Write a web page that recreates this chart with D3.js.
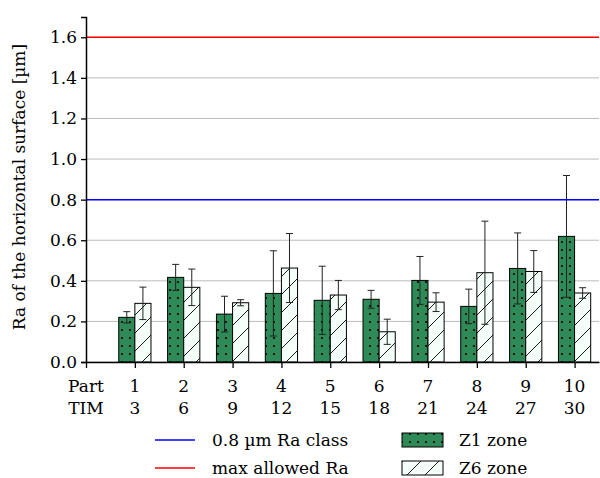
<!DOCTYPE html>
<html><head><meta charset="utf-8">
<script src="https://cdn.jsdelivr.net/npm/d3@7"></script>
<style>body{margin:0;background:#fff}svg{display:block}text{font-family:"DejaVu Serif",serif;fill:#000}</style>
</head><body>
<script>
const parts = ["1","2","3","4","5","6","7","8","9","10"];
const tims  = ["3","6","9","12","15","18","21","24","27","30"];
const z1Mean = [0.22,0.417,0.236,0.338,0.304,0.309,0.402,0.274,0.461,0.619];
const z1Err  = [0.028,0.064,0.088,0.21,0.168,0.044,0.118,0.085,0.175,0.30];
const z6Mean = [0.289,0.368,0.292,0.463,0.33,0.149,0.295,0.44,0.446,0.34];
const z6Err  = [0.08,0.09,0.015,0.17,0.072,0.062,0.046,0.254,0.103,0.026];
const yTicks = [0,0.2,0.4,0.6,0.8,1.0,1.2,1.4,1.6];
const classLine = 0.8, maxLine = 1.6;

const W=600,H=478, FS=17;
const svg=d3.select("body").append("svg").attr("width",W).attr("height",H);
const x=d3.scaleLinear().domain([0,10.5]).range([86,599]);
const y=d3.scaleLinear().domain([0,1.7]).range([362,17]);
const bw = x(0.33)-x(0);

const defs=svg.append("defs");
const pd=defs.append("pattern").attr("id","dots").attr("patternUnits","userSpaceOnUse").attr("width",8).attr("height",8);
pd.append("rect").attr("width",8).attr("height",8).attr("fill","#2e8b57");
pd.append("circle").attr("cx",2).attr("cy",2).attr("r",1.1).attr("fill","#000");
const ph=defs.append("pattern").attr("id","hatch").attr("patternUnits","userSpaceOnUse").attr("width",18).attr("height",18);
ph.append("rect").attr("width",18).attr("height",18).attr("fill","#f5fffa");
ph.append("path").attr("d","M0,18L18,0M-4,4L4,-4M14,22L22,14").attr("stroke","#000").attr("stroke-width",0.9);

// grid
svg.append("g").selectAll("line").data(yTicks).join("line")
  .attr("x1",x(0)).attr("x2",x(10.5)).attr("y1",d=>y(d)).attr("y2",d=>y(d))
  .attr("stroke","#bcbcbc").attr("stroke-width",1);

// bars
const idx=d3.range(parts.length);
const g=svg.append("g");
g.selectAll(".b1").data(idx).join("rect")
  .attr("x",i=>x(i+1)-bw).attr("width",bw).attr("y",i=>y(z1Mean[i])).attr("height",i=>y(0)-y(z1Mean[i]))
  .attr("fill","url(#dots)").attr("stroke","#000").attr("stroke-width",1);
g.selectAll(".b6").data(idx).join("rect")
  .attr("x",i=>x(i+1)).attr("width",bw).attr("y",i=>y(z6Mean[i])).attr("height",i=>y(0)-y(z6Mean[i]))
  .attr("fill","url(#hatch)").attr("stroke","#000").attr("stroke-width",1);

function errs(mean,err,off){
  const eg=svg.append("g").attr("stroke","#222").attr("stroke-width",1);
  idx.forEach(i=>{
    const cx=x(i+1)+off, t=y(mean[i]+err[i]), b=y(mean[i]-err[i]);
    eg.append("line").attr("x1",cx).attr("x2",cx).attr("y1",t).attr("y2",b);
    eg.append("line").attr("x1",cx-3.5).attr("x2",cx+3.5).attr("y1",t).attr("y2",t);
    eg.append("line").attr("x1",cx-3.5).attr("x2",cx+3.5).attr("y1",b).attr("y2",b);
  });
}
errs(z1Mean,z1Err,-bw/2);
errs(z6Mean,z6Err,bw/2);

// reference lines
svg.append("line").attr("x1",x(0)).attr("x2",x(10.5)).attr("y1",y(classLine)).attr("y2",y(classLine)).attr("stroke","#0000ff").attr("stroke-width",1.5);
svg.append("line").attr("x1",x(0)).attr("x2",x(10.5)).attr("y1",y(maxLine)).attr("y2",y(maxLine)).attr("stroke","#ff0000").attr("stroke-width",1.5);

// axes
const ya=svg.append("g").attr("transform",`translate(${x(0)},0)`)
  .call(d3.axisLeft(y).tickValues(yTicks).tickFormat(d3.format(".1f")).tickSize(5).tickPadding(4));
ya.select(".domain").attr("stroke-width",1.5);
ya.selectAll(".tick line").attr("stroke-width",1.3);
ya.selectAll("text").attr("font-size",FS).attr("font-family","DejaVu Serif");

const xa=svg.append("g").attr("transform",`translate(0,${y(0)})`)
  .call(d3.axisBottom(x).tickValues(d3.range(0,11)).tickFormat("").tickSize(6).tickSizeOuter(0));
xa.select(".domain").attr("stroke-width",1.5);
xa.selectAll(".tick line").attr("stroke-width",1.3);
const row1=["Part"].concat(parts), row2=["TIM"].concat(tims);
svg.append("g").selectAll("text").data(d3.range(11)).join("text")
  .attr("x",i=>x(i)).attr("y",392).attr("text-anchor","middle").attr("font-size",FS).text(i=>row1[i]);
svg.append("g").selectAll("text").data(d3.range(11)).join("text")
  .attr("x",i=>x(i)).attr("y",414).attr("text-anchor","middle").attr("font-size",FS).text(i=>row2[i]);

// y label
svg.append("text").attr("transform","translate(25,187) rotate(-90)").attr("text-anchor","middle")
  .attr("font-size",FS).text("Ra of the horizontal surface [µm]");

// legend
const lg=svg.append("g");
lg.append("line").attr("x1",155).attr("x2",195).attr("y1",440).attr("y2",440).attr("stroke","#0000ff").attr("stroke-width",1.5);
lg.append("line").attr("x1",155).attr("x2",195).attr("y1",468).attr("y2",468).attr("stroke","#ff0000").attr("stroke-width",1.5);
lg.append("text").attr("x",212).attr("y",446).attr("font-size",FS).text("0.8 µm Ra class");
lg.append("text").attr("x",212).attr("y",474).attr("font-size",FS).text("max allowed Ra");
lg.append("rect").attr("x",402).attr("y",433).attr("width",41).attr("height",14).attr("fill","url(#dots)").attr("stroke","#000");
lg.append("rect").attr("x",402).attr("y",461).attr("width",41).attr("height",14).attr("fill","url(#hatch)").attr("stroke","#000");
lg.append("text").attr("x",459).attr("y",446).attr("font-size",FS).text("Z1 zone");
lg.append("text").attr("x",459).attr("y",474).attr("font-size",FS).text("Z6 zone");
</script>
</body></html>
